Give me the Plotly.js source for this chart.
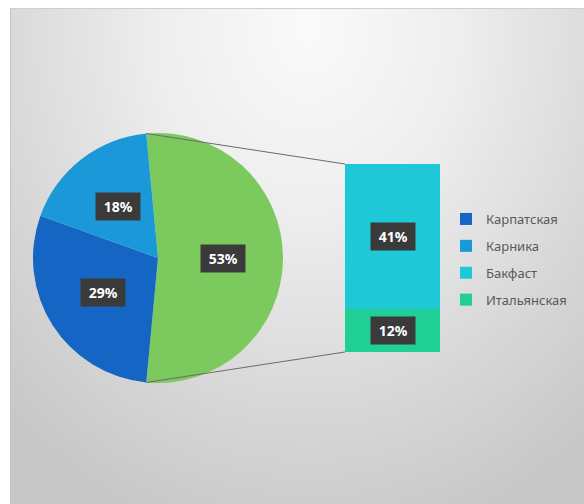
<!DOCTYPE html>
<html>
<head>
<meta charset="utf-8">
<script src="https://cdn.plot.ly/plotly-3.0.1.min.js"></script>
<style>
  html, body { margin:0; padding:0; background:#ffffff; }
  #bg { position:absolute; left:10px; top:8px; width:574px; height:496px;
        background: radial-gradient(ellipse 75% 105% at 52% 4%, #fafafa 0%, #eeeeee 35%, #d8d8d8 72%, #c8c8c8 100%);
        border-left:1px solid #c4c4c4; border-top:1px solid #cfcfcf; box-sizing:border-box; }
  #chart { position:absolute; left:0; top:0; width:584px; height:504px; }
</style>
</head>
<body>
<div id="bg"></div>
<div id="chart"></div>
<script>
// Data
var pieLabels = ['Карпатская', 'Карника'];
var pieValues = [29, 18];
var pieColors = ['#1565c4', '#1a98d8'];
var barLabels = ['Бакфаст', 'Итальянская'];
var barValues = [41, 12];
var barColors = ['#1ec8d6', '#1fcf94'];
var otherColor = '#7cc95e';

var W = 584, H = 504;
var otherTotal = barValues.reduce(function(a,b){return a+b;}, 0);
var total = otherTotal + pieValues.reduce(function(a,b){return a+b;}, 0);
var otherDeg = otherTotal / total * 360;
var rotation = 90 - otherDeg / 2;

// pie geometry (pixels)
var cx = 158, cy = 258, R = 125;
var pieDomX = [(cx - R) / W, (cx + R) / W];
var pieDomY = [1 - (cy + R) / H, 1 - (cy - R) / H];

// bar geometry (pixels)
var barLeft = 345, barRight = 440, barTop = 164, barBottom = 352;
var barDomX = [barLeft / W, barRight / W];
var barDomY = [1 - barBottom / H, 1 - barTop / H];

var traces = [];
traces.push({
  type: 'pie',
  labels: ['Другие'].concat(pieLabels),
  values: [otherTotal].concat(pieValues),
  marker: { colors: [otherColor].concat(pieColors), line: { width: 0 } },
  sort: false,
  direction: 'clockwise',
  rotation: rotation,
  textinfo: 'none',
  hoverinfo: 'label+percent',
  showlegend: false,
  domain: { x: pieDomX, y: pieDomY }
});
// legend-only entries for pie categories
pieLabels.forEach(function(l, i) {
  traces.push({ type: 'bar', name: l, x: [null], y: [null], marker: { color: pieColors[i] },
    legendrank: i + 1, legendgroup: 'g' + i, xaxis: 'x', yaxis: 'y' });
});
// stacked bar: bottom first
for (var j = barLabels.length - 1; j >= 0; j--) {
  traces.push({ type: 'bar', name: barLabels[j], x: [0], y: [barValues[j]], width: 1,
    marker: { color: barColors[j], line: { width: 0 } },
    legendrank: pieLabels.length + j + 1, legendgroup: 'b' + j, xaxis: 'x', yaxis: 'y',
    hoverinfo: 'name+y' });
}

var annotations = [];
function labelBox(text, x, y, xref, yref) {
  return { text: '&nbsp;<b>' + text + '</b>&nbsp;', x: x, y: y, xref: xref, yref: yref, showarrow: false,
    xanchor: 'center', yanchor: 'middle',
    bgcolor: '#3a3a3a', borderpad: 4, font: { family: 'Noto Sans, sans-serif', size: 14, color: '#ffffff' } };
}
// pie labels
var slices = [{v: otherTotal}].concat(pieValues.map(function(v){return {v:v};}));
var ang = rotation;
slices.forEach(function(s) {
  var deg = s.v / total * 360;
  var mid = (ang + deg / 2) * Math.PI / 180;
  var px = cx + 0.52 * R * Math.sin(mid), py = cy - 0.52 * R * Math.cos(mid);
  annotations.push(labelBox(Math.round(s.v / total * 100) + '%', px / W, 1 - py / H, 'paper', 'paper'));
  ang += deg;
});
// bar labels
var cum = 0;
for (var k = barLabels.length - 1; k >= 0; k--) {
  annotations.push(labelBox(Math.round(barValues[k] / total * 100) + '%', 0, cum + barValues[k] / 2, 'x', 'y'));
  cum += barValues[k];
}

// connector lines
var a0 = rotation * Math.PI / 180, a1 = (rotation + otherDeg) * Math.PI / 180;
var p0 = [cx + R * Math.sin(a0), cy - R * Math.cos(a0)];
var p1 = [cx + R * Math.sin(a1), cy - R * Math.cos(a1)];
var shapes = [
  { type: 'line', xref: 'paper', yref: 'paper', x0: p0[0] / W, y0: 1 - p0[1] / H, x1: barLeft / W, y1: 1 - barTop / H,
    line: { color: '#6b6b6b', width: 1 } },
  { type: 'line', xref: 'paper', yref: 'paper', x0: p1[0] / W, y0: 1 - p1[1] / H, x1: barLeft / W, y1: 1 - barBottom / H,
    line: { color: '#6b6b6b', width: 1 } }
];

var layout = {
  width: W, height: H,
  margin: { l: 0, r: 0, t: 0, b: 0 },
  paper_bgcolor: 'rgba(0,0,0,0)',
  plot_bgcolor: 'rgba(0,0,0,0)',
  barmode: 'stack',
  xaxis: { domain: barDomX, range: [-0.5, 0.5], visible: false, fixedrange: true },
  yaxis: { domain: barDomY, range: [0, otherTotal], visible: false, fixedrange: true },
  showlegend: true,
  legend: { x: 446 / W, xanchor: 'left', y: 1 - 204 / H, yanchor: 'top', traceorder: 'grouped',
    tracegroupgap: 7, itemwidth: 30, bgcolor: 'rgba(0,0,0,0)',
    font: { family: 'Noto Sans, sans-serif', size: 13, color: '#595959' } },
  annotations: annotations,
  shapes: shapes
};

Plotly.newPlot('chart', traces, layout, { displayModeBar: false, staticPlot: true });
</script>
</body>
</html>
